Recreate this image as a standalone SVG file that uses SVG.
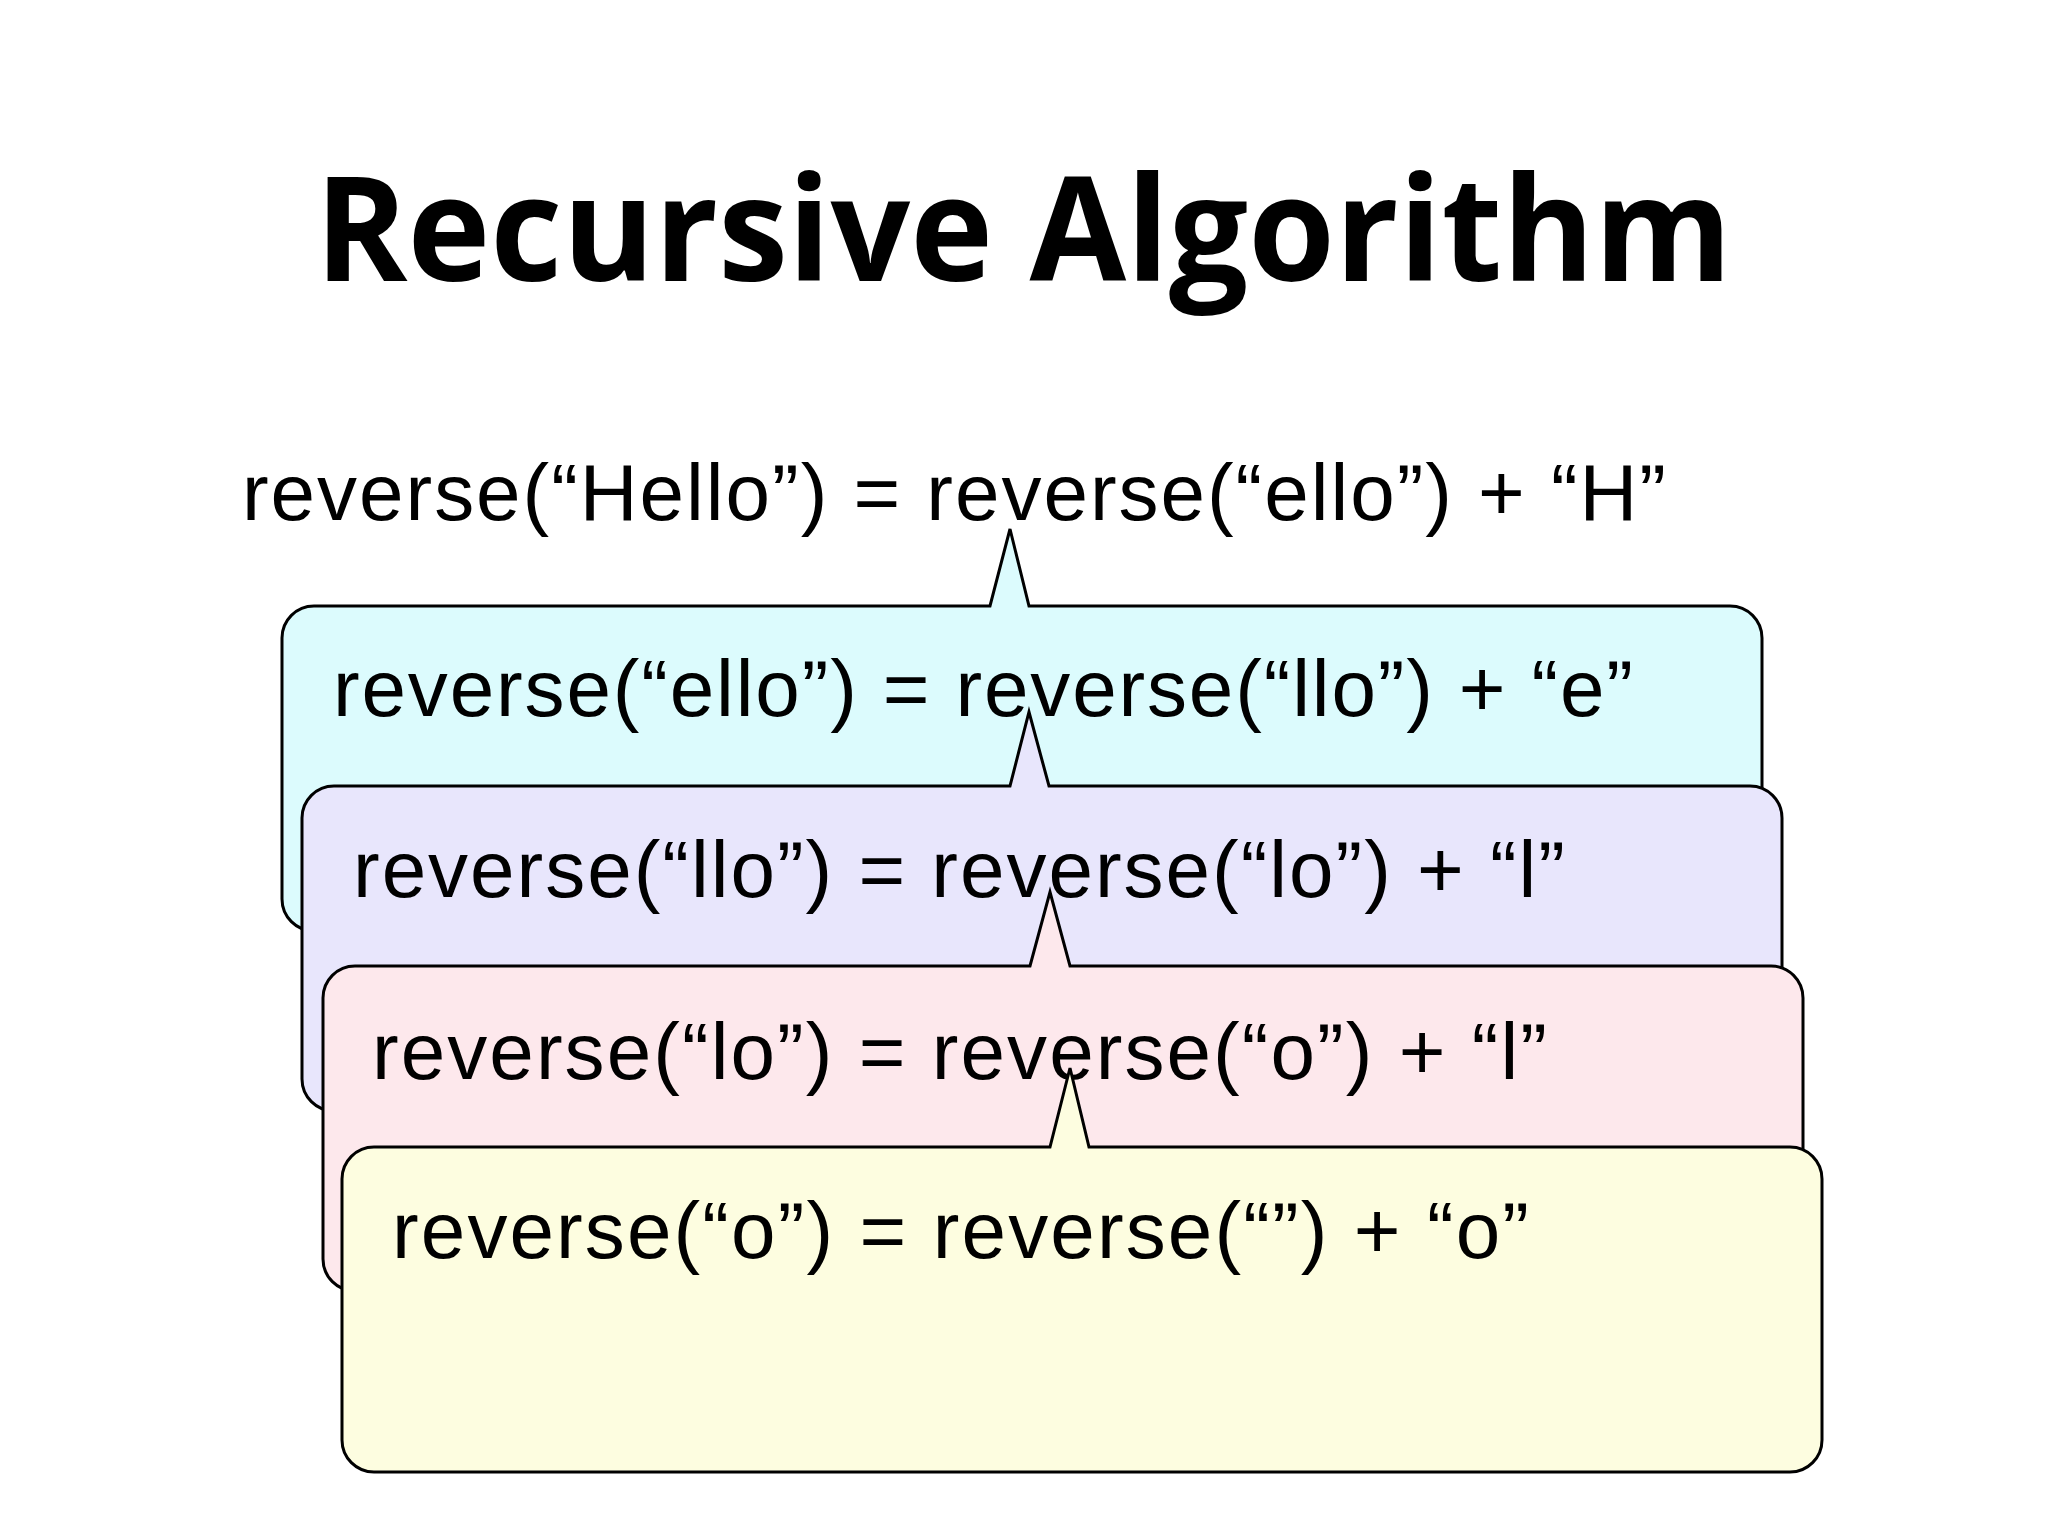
<svg xmlns="http://www.w3.org/2000/svg" width="2048" height="1536" viewBox="0 0 2048 1536">
<style>
.t{font-family:"Liberation Sans",Arial,sans-serif;font-size:80px;fill:#000}
.b{stroke:#000;stroke-width:3;stroke-linejoin:miter}
</style>
<rect width="2048" height="1536" fill="#fff"/>
<text x="315" y="281" textLength="1417" lengthAdjust="spacingAndGlyphs" style="font-family:'Open Sans','DejaVu Sans',sans-serif;font-weight:bold;font-size:146px">Recursive Algorithm</text>
<text class="t" x="242" y="520" textLength="1424">reverse(“Hello”) = reverse(“ello”) + “H”</text>
<g id="box1">
<path class="b" fill="#dcfbfd" d="M314,606 H990 L1010,529 L1029,606 H1730 A32,32 0 0 1 1762,638 V899 A32,32 0 0 1 1730,931 H314 A32,32 0 0 1 282,899 V638 A32,32 0 0 1 314,606 Z"/>
<text class="t" x="333" y="716" textLength="1300">reverse(“ello”) = reverse(“llo”) + “e”</text>
</g>
<g id="box2">
<path class="b" fill="#e8e6fc" d="M334,786 H1010 L1029,712 L1049,786 H1750 A32,32 0 0 1 1782,818 V1079 A32,32 0 0 1 1750,1111 H334 A32,32 0 0 1 302,1079 V818 A32,32 0 0 1 334,786 Z"/>
<text class="t" x="353" y="897" textLength="1212">reverse(“llo”) = reverse(“lo”) + “l”</text>
</g>
<g id="box3">
<path class="b" fill="#fde8ec" d="M355,966 H1030 L1050,892 L1070,966 H1771 A32,32 0 0 1 1803,998 V1259 A32,32 0 0 1 1771,1291 H355 A32,32 0 0 1 323,1259 V998 A32,32 0 0 1 355,966 Z"/>
<text class="t" x="372" y="1079" textLength="1175">reverse(“lo”) = reverse(“o”) + “l”</text>
</g>
<g id="box4">
<path class="b" fill="#fdfde0" d="M374,1147 H1050 L1070,1068 L1089,1147 H1790 A32,32 0 0 1 1822,1179 V1440 A32,32 0 0 1 1790,1472 H374 A32,32 0 0 1 342,1440 V1179 A32,32 0 0 1 374,1147 Z"/>
<text class="t" x="392" y="1258" textLength="1137">reverse(“o”) = reverse(“”) + “o”</text>
</g>
<g id="connectors"/>
</svg>
